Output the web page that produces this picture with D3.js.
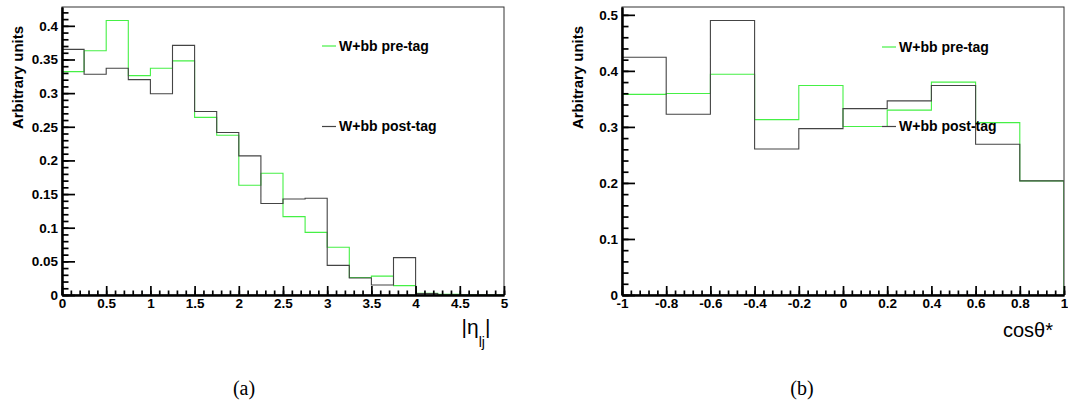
<!DOCTYPE html>
<html>
<head>
<meta charset="utf-8">
<script src="https://cdn.jsdelivr.net/npm/d3@7"></script>
<style>
  html, body { margin: 0; padding: 0; background: #fff; }
  svg { display: block; }
</style>
</head>
<body>
<script>
// ---------------- data ----------------
const etaEdges = [0,0.25,0.5,0.75,1,1.25,1.5,1.75,2,2.25,2.5,2.75,3,3.25,3.5,3.75,4,4.25,4.5,4.75,5];
const etaPreTag  = [0.332,0.363,0.408,0.326,0.337,0.348,0.264,0.2375,0.163,0.181,0.1165,0.093,0.071,0.026,0.028,0.014,0.0025,0.001,0,0];
const etaPostTag = [0.365,0.328,0.337,0.320,0.299,0.371,0.2726,0.2414,0.2067,0.136,0.1427,0.1438,0.0441,0.0253,0.0149,0.0555,0.002,0,0,0];

const cosEdges = [-1,-0.8,-0.6,-0.4,-0.2,0,0.2,0.4,0.6,0.8,1];
const cosPreTag  = [0.358,0.3595,0.394,0.313,0.374,0.3006,0.330,0.380,0.3077,0.2036];
const cosPostTag = [0.4244,0.3226,0.4899,0.2607,0.297,0.3327,0.3464,0.3738,0.269,0.2036];

const etaXTicks = ["0","0.5","1","1.5","2","2.5","3","3.5","4","4.5","5"];
const etaYTicks = ["0","0.05","0.1","0.15","0.2","0.25","0.3","0.35","0.4"];
const cosXTicks = ["-1","-0.8","-0.6","-0.4","-0.2","0","0.2","0.4","0.6","0.8","1"];
const cosYTicks = ["0","0.1","0.2","0.3","0.4","0.5"];

const seriesNames = ["W+bb pre-tag", "W+bb post-tag"];
const seriesColors = ["#45f045", "#444444"];

// ---------------- drawing ----------------
const W = 1068, H = 405;
const svg = d3.select("body").append("svg").attr("width", W).attr("height", H);

function drawPanel(cfg) {
  const x = d3.scaleLinear().domain(cfg.xDomain).range([cfg.x0, cfg.x1]);
  const y = d3.scaleLinear().domain(cfg.yDomain).range([cfg.y1, cfg.y0]);
  const g = svg.append("g");

  const clipId = "clip-" + cfg.id;
  svg.append("clipPath").attr("id", clipId).append("rect")
    .attr("x", cfg.x0).attr("y", cfg.y0 - 1)
    .attr("width", cfg.x1 - cfg.x0).attr("height", cfg.y1 - cfg.y0 + 1);

  // frame
  g.append("rect").attr("x", cfg.x0).attr("y", cfg.y0)
    .attr("width", cfg.x1 - cfg.x0).attr("height", cfg.y1 - cfg.y0)
    .attr("fill", "none").attr("stroke", "#333").attr("stroke-width", 1);

  // histograms (step outlines)
  const hg = g.append("g").attr("clip-path", `url(#${clipId})`);
  cfg.series.forEach((vals, si) => {
    const pts = [[cfg.edges[0], 0]];
    vals.forEach((v, i) => { pts.push([cfg.edges[i], v]); pts.push([cfg.edges[i + 1], v]); });
    pts.push([cfg.edges[cfg.edges.length - 1], 0]);
    const line = d3.line().x(d => x(d[0])).y(d => y(d[1]));
    hg.append("path").attr("d", line(pts)).attr("fill", "none")
      .attr("stroke", seriesColors[si]).attr("stroke-width", 1.1);
  });

  const xMajor = cfg.xTicks.map(Number);
  const yMajor = cfg.yTicks.map(Number);
  const xMinor = d3.range(cfg.xDomain[0], cfg.xDomain[1] + 1e-9, cfg.xMinorStep);
  const yMinor = d3.range(0, cfg.yDomain[1] + 1e-9, cfg.yMinorStep);

  const axStyle = sel => {
    sel.selectAll("line").attr("stroke", "#000").attr("stroke-width", 1.7);
    sel.selectAll("path.domain").attr("stroke", "#000").attr("stroke-width", 2);
    sel.selectAll("text").attr("font-family", "Liberation Sans, Arial, sans-serif")
      .attr("font-weight", "bold").attr("font-size", 13.5).attr("fill", "#000");
  };

  // minor ticks
  g.append("g").attr("transform", `translate(0,${cfg.y1})`)
    .call(d3.axisBottom(x).tickValues(xMinor).tickSizeInner(-4.5).tickSizeOuter(0).tickFormat(""))
    .call(axStyle);
  g.append("g").attr("transform", `translate(${cfg.x0},0)`)
    .call(d3.axisLeft(y).tickValues(yMinor).tickSizeInner(-6.5).tickSizeOuter(0).tickFormat(""))
    .call(axStyle);
  // major ticks + labels
  g.append("g").attr("transform", `translate(0,${cfg.y1})`)
    .call(d3.axisBottom(x).tickValues(xMajor).tickSizeInner(-9).tickSizeOuter(0).tickPadding(3.5)
      .tickFormat((d, i) => cfg.xTicks[i]))
    .call(axStyle);
  g.append("g").attr("transform", `translate(${cfg.x0},0)`)
    .call(d3.axisLeft(y).tickValues(yMajor).tickSizeInner(-13).tickSizeOuter(0).tickPadding(4)
      .tickFormat((d, i) => cfg.yTicks[i]))
    .call(axStyle);

  // y title
  g.append("text")
    .attr("transform", `translate(${cfg.x0 - 39},${cfg.y0 + 19}) rotate(-90)`)
    .attr("text-anchor", "end")
    .attr("font-family", "Liberation Sans, Arial, sans-serif")
    .attr("font-weight", "bold").attr("font-size", 14)
    .attr("textLength", 103).attr("lengthAdjust", "spacingAndGlyphs")
    .text("Arbitrary units");

  // legend
  cfg.legendY.forEach((ly, si) => {
    g.append("line").attr("x1", cfg.legendX).attr("x2", cfg.legendX + 14)
      .attr("y1", ly).attr("y2", ly)
      .attr("stroke", seriesColors[si]).attr("stroke-width", 1.2);
    g.append("text").attr("x", cfg.legendX + 17).attr("y", ly + 4.5)
      .attr("font-family", "Liberation Sans, Arial, sans-serif")
      .attr("font-weight", "bold").attr("font-size", 14).attr("fill", "#000")
      .text(seriesNames[si]);
  });

  // caption
  svg.append("text").attr("x", cfg.captionX).attr("y", 395)
    .attr("text-anchor", "middle")
    .attr("font-family", "Liberation Serif, Times New Roman, serif")
    .attr("font-size", 20).text(cfg.caption);

  return g;
}

const gA = drawPanel({
  id: "a", x0: 62, x1: 504, y0: 7, y1: 295,
  xDomain: [0, 5], yDomain: [0, 0.428],
  edges: etaEdges, series: [etaPreTag, etaPostTag],
  xTicks: etaXTicks, yTicks: etaYTicks, xMinorStep: 0.1, yMinorStep: 0.01,
  legendX: 322, legendY: [46, 126.5],
  caption: "(a)", captionX: 244
});

const gB = drawPanel({
  id: "b", x0: 622, x1: 1064, y0: 7, y1: 295,
  xDomain: [-1, 1], yDomain: [0, 0.514],
  edges: cosEdges, series: [cosPreTag, cosPostTag],
  xTicks: cosXTicks, yTicks: cosYTicks, xMinorStep: 0.04, yMinorStep: 0.02,
  legendX: 882, legendY: [47, 126.5],
  caption: "(b)", captionX: 802
});

// x titles
const tA = gA.append("text").attr("x", 461.5).attr("y", 334)
  .attr("font-family", "Liberation Sans, Arial, sans-serif").attr("font-size", 21).attr("fill", "#000");
tA.append("tspan").text("|η");
tA.append("tspan").attr("font-size", 14).attr("dy", 13).text("lj");
tA.append("tspan").attr("dy", -13).text("|");

gB.append("text").attr("x", 1053).attr("y", 337).attr("text-anchor", "end")
  .attr("font-family", "Liberation Sans, Arial, sans-serif").attr("font-size", 20).attr("fill", "#000")
  .text("cosθ*");
</script>
</body>
</html>
